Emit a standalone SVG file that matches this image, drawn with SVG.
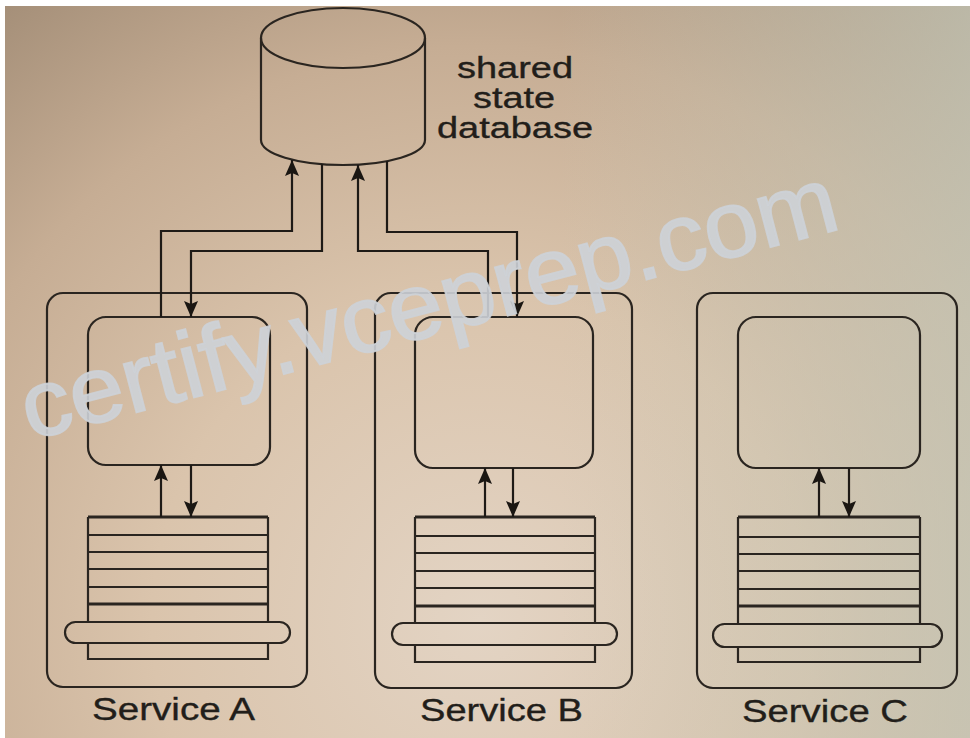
<svg xmlns="http://www.w3.org/2000/svg" width="970" height="738" viewBox="0 0 970 738">
  <defs>
    <radialGradient id="bg" gradientUnits="userSpaceOnUse" cx="480" cy="620" r="820">
      <stop offset="0" stop-color="#e3d4c4"/>
      <stop offset="0.4" stop-color="#dac4ac"/>
      <stop offset="0.7" stop-color="#c6ad94"/>
      <stop offset="1" stop-color="#9e8973"/>
    </radialGradient>
    <linearGradient id="tint" gradientUnits="userSpaceOnUse" x1="560" y1="0" x2="970" y2="0">
      <stop offset="0" stop-color="#c6cabb" stop-opacity="0"/>
      <stop offset="1" stop-color="#c6cabb" stop-opacity="0.7"/>
    </linearGradient>
    <marker id="ah" viewBox="0 0 16 14" refX="16" refY="7" markerWidth="16" markerHeight="14" markerUnits="userSpaceOnUse" orient="auto">
      <path d="M0,0 L16,7 L0,14 L3,7 z" fill="#1a1612"/>
    </marker>
    <style>
      .ln { fill: none; stroke: #2a2520; stroke-width: 2.2; }
      .thick { fill: none; stroke: #2a2520; stroke-width: 3; }
      .con { fill: none; stroke: #1e1a16; stroke-width: 2.2; marker-end: url(#ah); }
      .lbl { font-family: "Liberation Sans", Arial, sans-serif; fill: #221e1a; stroke: #221e1a; stroke-width: 0.35; }
      .wm { font-family: "Liberation Sans", Arial, sans-serif; fill: #cdd1d7; fill-opacity: 0.9; stroke: #cdd1d7; stroke-opacity: 0.9; stroke-width: 2; }
    </style>
  </defs>

  <rect x="0" y="0" width="970" height="738" fill="#ffffff"/>
  <rect x="5" y="6" width="965" height="732" fill="url(#bg)"/>
  <rect x="5" y="6" width="965" height="732" fill="url(#tint)"/>

  <g id="database">
    <path class="ln" d="M261,38 V140 A82,25 0 0 0 425,140 V38"/>
    <ellipse class="ln" cx="343" cy="38" rx="82" ry="30"/>
    <text class="lbl" x="457" y="78" font-size="29" textLength="116" lengthAdjust="spacingAndGlyphs">shared</text>
    <text class="lbl" x="473" y="108" font-size="29" textLength="82" lengthAdjust="spacingAndGlyphs">state</text>
    <text class="lbl" x="437" y="138" font-size="29" textLength="156" lengthAdjust="spacingAndGlyphs">database</text>
  </g>

  <g id="service-a">
    <rect class="ln" x="47" y="293" width="260" height="394" rx="16"/>
    <rect class="ln" x="88" y="317" width="182" height="148" rx="18"/>
    <path class="thick" d="M88,517 H268"/>
    <path class="ln" d="M88,535 H268 M88,552 H268 M88,569 H268 M88,587 H268"/>
    <path class="thick" d="M88,604 H268"/>
    <path class="ln" d="M88,517 V622 M268,517 V622 M88,643 V659 H268 V643"/>
    <rect class="ln" x="65" y="622" width="225" height="21" rx="10.5"/>
    <text class="lbl" x="92" y="720" font-size="31" textLength="163" lengthAdjust="spacingAndGlyphs">Service A</text>
  </g>

  <g id="service-b">
    <rect class="ln" x="375" y="293" width="257" height="395" rx="16"/>
    <rect class="ln" x="415" y="317" width="178" height="151" rx="18"/>
    <path class="thick" d="M415,517 H595"/>
    <path class="ln" d="M415,536 H595 M415,553 H595 M415,571 H595 M415,588 H595"/>
    <path class="thick" d="M415,606 H595"/>
    <path class="ln" d="M415,517 V623 M595,517 V623 M415,645 V662 H595 V645"/>
    <rect class="ln" x="392" y="623" width="225" height="22" rx="11"/>
    <text class="lbl" x="420" y="721" font-size="31" textLength="163" lengthAdjust="spacingAndGlyphs">Service B</text>
  </g>

  <g id="service-c">
    <rect class="ln" x="697" y="293" width="260" height="395" rx="16"/>
    <rect class="ln" x="738" y="317" width="182" height="151" rx="18"/>
    <path class="thick" d="M738,517 H920"/>
    <path class="ln" d="M738,537 H920 M738,554 H920 M738,571 H920 M738,589 H920"/>
    <path class="thick" d="M738,606 H920"/>
    <path class="ln" d="M738,517 V624 M920,517 V624 M738,647 V662 H920 V647"/>
    <rect class="ln" x="713" y="624" width="229" height="23" rx="11.5"/>
    <text class="lbl" x="742" y="722" font-size="31" textLength="166" lengthAdjust="spacingAndGlyphs">Service C</text>
  </g>

  <g id="connectors">
    <path class="con" d="M161,317 V231 H292 V160"/>
    <path class="con" d="M322,164 V251 H191 V317"/>
    <path class="con" d="M488,317 V251 H358 V165"/>
    <path class="con" d="M387,161 V232 H517 V317"/>
    <path class="con" d="M161,517 V465"/>
    <path class="con" d="M191,465 V517"/>
    <path class="con" d="M485,517 V468"/>
    <path class="con" d="M513,468 V517"/>
    <path class="con" d="M819,517 V468"/>
    <path class="con" d="M849,468 V517"/>
  </g>

  <g id="watermark">
    <text class="wm" x="0" y="0" font-size="94" textLength="840" lengthAdjust="spacingAndGlyphs" transform="translate(30,440) rotate(-14.6)">certify.vceprep.com</text>
  </g>
</svg>
